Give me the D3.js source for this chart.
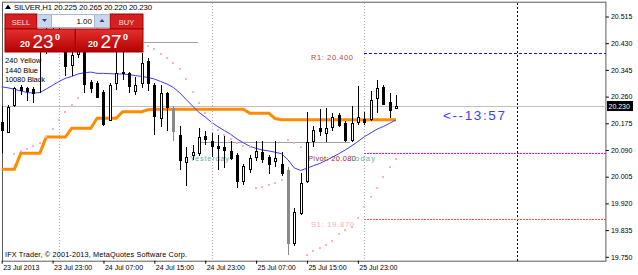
<!DOCTYPE html>
<html><head><meta charset="utf-8">
<script src="https://cdn.jsdelivr.net/npm/d3@7/dist/d3.min.js"></script>
<style>
body{margin:0;background:#fff}
svg{display:block}
text{font-family:"Liberation Sans",Arial,sans-serif}
</style>
</head><body>
<svg id="chart" width="638" height="275"></svg>
<script>
// ---------- DATA (bar 0 = 23 Jul 2013 15:00, H1 bars) ----------
const opens  = [20.180,20.149,20.234,20.292,20.287,20.283,20.430,20.425,20.460,20.470,20.440,20.361,20.395,20.440,20.305,20.304,20.275,20.186,20.303,20.338,20.334,20.279,20.303,20.374,20.297,20.194,20.271,20.223,20.138,20.052,20.072,20.080,20.135,20.120,20.103,20.099,20.088,20.075,19.993,20.030,20.069,20.084,20.069,20.053,20.046,20.027,19.794,19.891,19.989,20.119,20.159,20.144,20.163,20.202,20.175,20.120,20.179,20.189,20.188,20.255,20.292,20.244,20.225];
const highs  = [20.230,20.234,20.292,20.297,20.291,20.292,20.450,20.480,20.500,20.490,20.455,20.420,20.460,20.470,20.313,20.310,20.280,20.303,20.410,20.420,20.339,20.322,20.398,20.382,20.303,20.297,20.276,20.230,20.167,20.099,20.106,20.160,20.149,20.144,20.138,20.133,20.120,20.081,20.046,20.075,20.120,20.120,20.075,20.120,20.085,20.037,19.906,20.016,20.212,20.165,20.220,20.223,20.207,20.208,20.183,20.230,20.294,20.212,20.279,20.313,20.297,20.271,20.265];
const lows   = [20.081,20.144,20.228,20.265,20.246,20.240,20.270,20.396,20.440,20.430,20.324,20.324,20.383,20.273,20.273,20.255,20.167,20.183,20.281,20.313,20.271,20.265,20.287,20.279,20.138,20.163,20.149,20.119,20.025,19.974,20.059,20.071,20.106,20.069,20.027,20.032,20.059,19.969,19.979,20.016,20.056,20.050,20.014,20.035,20.008,19.757,19.785,19.884,19.985,20.099,20.133,20.117,20.149,20.164,20.117,20.117,20.170,20.170,20.183,20.207,20.233,20.191,20.220];
const closes = [20.154,20.228,20.287,20.283,20.278,20.271,20.425,20.460,20.470,20.440,20.356,20.393,20.440,20.300,20.287,20.259,20.173,20.297,20.334,20.335,20.292,20.297,20.368,20.303,20.199,20.273,20.228,20.149,20.059,20.067,20.083,20.132,20.124,20.103,20.098,20.090,20.067,19.993,20.040,20.064,20.088,20.063,20.048,20.064,20.016,19.794,19.894,19.985,20.114,20.154,20.149,20.159,20.194,20.170,20.122,20.175,20.194,20.179,20.249,20.287,20.239,20.220,20.230];
const maBlue = [20.291,20.288,20.283,20.278,20.273,20.271,20.273,20.284,20.296,20.308,20.318,20.324,20.332,20.336,20.338,20.334,20.334,20.333,20.332,20.332,20.330,20.327,20.324,20.321,20.316,20.308,20.300,20.289,20.272,20.251,20.230,20.210,20.195,20.178,20.164,20.152,20.140,20.125,20.113,20.102,20.095,20.090,20.087,20.083,20.078,20.059,20.033,20.025,20.032,20.040,20.047,20.057,20.067,20.078,20.090,20.103,20.117,20.132,20.144,20.156,20.165,20.175,20.186];
const maOrange = [20.029,20.029,20.029,20.080,20.080,20.080,20.080,20.131,20.131,20.131,20.131,20.159,20.159,20.159,20.159,20.191,20.191,20.191,20.191,20.212,20.212,20.212,20.212,20.218,20.220,20.220,20.220,20.220,20.220,20.220,20.220,20.220,20.220,20.220,20.220,20.220,20.220,20.220,20.220,20.207,20.207,20.207,20.207,20.190,20.186,20.186,20.186,20.186,20.186,20.186,20.186,20.186,20.186,20.186,20.186,20.186,20.186,20.186,20.186,20.186,20.186,20.186,20.186];
const sar = [null,null,20.078,20.086,20.093,20.103,20.112,20.132,20.156,20.184,20.212,20.234,20.255,20.490,20.485,20.478,20.470,20.462,20.455,20.447,20.440,20.433,20.427,20.421,20.413,20.396,20.382,20.368,20.347,20.315,20.276,20.239,20.207,20.177,20.154,20.138,20.124,20.113,20.103,20.098,19.969,19.972,19.979,19.986,19.995,20.121,20.112,20.100,19.757,19.767,19.778,19.788,19.801,19.822,19.836,19.846,19.873,19.907,19.940,19.969,20.004,20.035,20.061];

const yTicks = [20.515,20.430,20.345,20.260,20.175,20.090,20.005,19.920,19.835,19.750];
const xTickBars = [0,8,16,24,32,40,48,56];
const xTickLabels = ["23 Jul 2013","23 Jul 23:00","24 Jul 07:00","24 Jul 15:00","24 Jul 23:00","25 Jul 07:00","25 Jul 15:00","25 Jul 23:00"];
const daySeparators = [9,33,57];
const futureSeparator = 81;
const todayStartBar = 57;
const pivot = 20.080, r1 = 20.400, s1 = 19.870;
const bid = 20.230;
const refLines = [{price:20.434, from:22.4, to:30.9},{price:20.117, from:31.2, to:54.8}];
const header = "SILVER,H1 20.225 20.265 20.220 20.230";
const tfLegend = ["240 Yellow","1440 Blue","10080 Black"];
const countdown = "<--13:57";
const fadedBars = [27,45];

// ---------- SCALES ----------
const W = 638, H = 275;
const plot = {l:2, r:605.9, t:1.7, b:260.7};
const x = d3.scaleLinear().domain([0,95]).range([1.7,605.9]);
const y = d3.scaleLinear().domain([19.750,20.515]).range([256.8,16.5]);
const svg = d3.select("#chart");
svg.append("rect").attr("width",W).attr("height",H).attr("fill","#fff");

const bars = opens.map((o,i)=>({i,o,h:highs[i],l:lows[i],c:closes[i]}));

// frame
svg.append("rect").attr("x",plot.l+0.5).attr("y",plot.t+0.5)
  .attr("width",plot.r-plot.l-0.5).attr("height",plot.b-plot.t)
  .attr("fill","none").attr("stroke","#5a5a5a").attr("stroke-width",1);

const g = svg.append("g").attr("shape-rendering","crispEdges");
// day separators
g.selectAll(".sep").data(daySeparators).join("line")
  .attr("x1",d=>Math.round(x(d))+0.5).attr("x2",d=>Math.round(x(d))+0.5)
  .attr("y1",plot.t+1).attr("y2",plot.b)
  .attr("stroke","#b0b0b0").attr("stroke-dasharray","1,2");
g.append("line").attr("x1",Math.round(x(futureSeparator))+0.5).attr("x2",Math.round(x(futureSeparator))+0.5)
  .attr("y1",plot.t+1).attr("y2",plot.b)
  .attr("stroke","#000").attr("stroke-dasharray","2,2");

// pivot levels
const lvl = [{v:r1,c:"#1a1ab0",dash:"3,2"},{v:pivot,c:"#ff00ff",dash:"2,1"},{v:s1,c:"#ff5050",dash:"2,1"}];
g.selectAll(".lvl").data(lvl).join("line")
  .attr("x1",x(todayStartBar)).attr("x2",plot.r)
  .attr("y1",d=>Math.round(y(d.v))+0.5).attr("y2",d=>Math.round(y(d.v))+0.5)
  .attr("stroke",d=>d.c).attr("stroke-dasharray",d=>d.dash);

// bid line
g.append("line").attr("x1",plot.l).attr("x2",plot.r)
  .attr("y1",Math.round(y(bid))+0.5).attr("y2",Math.round(y(bid))+0.5)
  .attr("stroke","#c0c0c0");
// reference lines
g.selectAll(".ref").data(refLines).join("line")
  .attr("x1",d=>x(d.from)).attr("x2",d=>x(d.to))
  .attr("y1",d=>Math.round(y(d.price))+0.5).attr("y2",d=>Math.round(y(d.price))+0.5)
  .attr("stroke","#a0a0a0");

// labels of levels
const lt = svg.append("g").attr("font-size","7.5px");
lt.append("text").attr("x",311).attr("y",y(r1)+7.5).attr("fill","#b04848").attr("textLength",42).text("R1: "+r1.toFixed(3));
lt.append("text").attr("x",308).attr("y",y(pivot)+8).attr("fill","#a02828").attr("textLength",48).text("Pivot: "+pivot.toFixed(3));
lt.append("text").attr("x",350).attr("y",y(pivot)+8).attr("fill","#66b0b0").attr("textLength",25).text("Today");
lt.append("text").attr("x",311).attr("y",y(s1)+8).attr("fill","#f2b0b0").attr("textLength",43).text("S1: "+s1.toFixed(3));
lt.append("text").attr("x",190).attr("y",y(pivot)+8).attr("fill","#66b0b0").attr("textLength",39).text("Yesterday");

// orange MA
svg.append("path").datum(maOrange)
  .attr("d",d3.line().x((d,i)=>x(i)).y(d=>y(d)))
  .attr("fill","none").attr("stroke","#ff8c00").attr("stroke-width",3);
// blue MA
svg.append("path").datum(maBlue)
  .attr("d",d3.line().x((d,i)=>x(i)).y(d=>y(d)).curve(d3.curveLinear))
  .attr("fill","none").attr("stroke","#3c3cff").attr("stroke-width",1);

// SAR
svg.append("g").selectAll("rect").data(sar.map((v,i)=>({v,i})).filter(d=>d.v!==null)).join("rect")
  .attr("x",d=>Math.round(x(d.i))-1).attr("y",d=>Math.round(y(d.v))-1).attr("width",2).attr("height",2)
  .attr("fill","#ffb0c0");

// candles
const cg = svg.append("g").attr("shape-rendering","crispEdges");
const col = d=>fadedBars.includes(d.i)?"#8a8a8a":"#000";
cg.selectAll(".wick").data(bars).join("line")
  .attr("x1",d=>Math.round(x(d.i))+0.5).attr("x2",d=>Math.round(x(d.i))+0.5)
  .attr("y1",d=>Math.round(y(d.h))).attr("y2",d=>Math.round(y(d.l)))
  .attr("stroke",col);
cg.selectAll(".body").data(bars).join("rect")
  .attr("x",d=>Math.round(x(d.i))-0.5).attr("width",2)
  .attr("y",d=>Math.round(y(Math.max(d.o,d.c)))+0.5)
  .attr("height",d=>Math.max(1,Math.round(Math.abs(y(d.o)-y(d.c)))))
  .attr("fill",d=>d.c>=d.o?"#fff":col(d))
  .attr("stroke",col).attr("stroke-width",1);

// countdown
svg.append("text").attr("x",443).attr("y",120).attr("fill","#3c3cff")
  .attr("font-family","'Liberation Mono','Courier New',monospace").attr("font-size","13.5px")
  .attr("textLength",62).text(countdown);

// right axis
const ya = svg.append("g").attr("transform",`translate(${plot.r},0)`)
  .call(d3.axisRight(y).tickValues(yTicks).tickSize(3).tickFormat(d3.format(".3f")));
ya.select(".domain").remove();
ya.selectAll("line").attr("stroke","#000");
ya.selectAll("text").attr("font-size","7px").attr("fill","#000").attr("x",5).attr("font-family","'Liberation Sans',Arial,sans-serif");
// price box
svg.append("rect").attr("x",607).attr("y",y(bid)-5).attr("width",26).attr("height",10).attr("fill","#000");
svg.append("text").attr("x",608.5).attr("y",y(bid)+2.5).attr("fill","#fff").attr("font-size","7px").text(bid.toFixed(3));

// bottom axis
const xa = svg.append("g").attr("transform",`translate(0,${plot.b})`)
  .call(d3.axisBottom(x).tickValues(xTickBars).tickSize(3).tickFormat((d,i)=>xTickLabels[i]));
xa.select(".domain").remove();
xa.selectAll("line").attr("stroke","#000");
xa.selectAll("text").attr("font-size","7px").attr("fill","#000").attr("text-anchor","start")
  .attr("dx",1).attr("y",4).attr("dy","0.71em").attr("font-family","'Liberation Sans',Arial,sans-serif");

// header + legend + copyright
svg.append("path").attr("d","M5,9 L8,4.5 L11,9 Z").attr("fill","#000");
svg.append("text").attr("x",14).attr("y",9.5).attr("font-size","7.8px").attr("fill","#000")
  .attr("textLength",138).text(header);
svg.selectAll(".leg").data(tfLegend).join("text")
  .attr("x",5).attr("y",(d,i)=>63+i*9.5).attr("font-size","7.5px").attr("fill","#000")
  .attr("textLength",(d,i)=>[36.5,33,40][i]).text(d=>d);
svg.append("text").attr("x",5).attr("y",257).attr("font-size","7.3px").attr("fill","#000")
  .attr("textLength",182).text("IFX Trader, \u00a9 2001-2013, MetaQuotes Software Corp.");

// one-click trading panel
const defs = svg.append("defs");
const gr = defs.append("linearGradient").attr("id","redg").attr("x1",0).attr("y1",0).attr("x2",0).attr("y2",1);
gr.append("stop").attr("offset","0%").attr("stop-color","#e63030");
gr.append("stop").attr("offset","100%").attr("stop-color","#b30000");
const p = svg.append("g");
p.append("rect").attr("x",5).attr("y",14).attr("width",32).attr("height",15).attr("fill","#d42020").attr("stroke","#a00000");
p.append("text").attr("x",21).attr("y",24.5).attr("text-anchor","middle").attr("font-size","7.5px").attr("fill","#ffe0e0").text("SELL");
p.append("rect").attr("x",110).attr("y",14).attr("width",33).attr("height",15).attr("fill","#d42020").attr("stroke","#a00000");
p.append("text").attr("x",126.5).attr("y",24.5).attr("text-anchor","middle").attr("font-size","7.5px").attr("fill","#ffe0e0").text("BUY");
p.append("rect").attr("x",37.5).attr("y",14.5).attr("width",14).attr("height",13).attr("fill","#c8d6ee").attr("stroke","#a8b8d0");
p.append("path").attr("d","M42,19 L47,19 L44.5,22 Z").attr("fill","#304070");
p.append("rect").attr("x",51.5).attr("y",14.5).attr("width",43).attr("height",13).attr("fill","#fff").attr("stroke","#a8b8d0");
p.append("text").attr("x",92).attr("y",24).attr("text-anchor","end").attr("font-size","8px").attr("fill","#000").text("1.00");
p.append("rect").attr("x",94.5).attr("y",14.5).attr("width",15).attr("height",13).attr("fill","#c8d6ee").attr("stroke","#a8b8d0");
p.append("path").attr("d","M99.5,22 L104.5,22 L102,19 Z").attr("fill","#304070");
p.append("rect").attr("x",5).attr("y",29).attr("width",70).attr("height",23).attr("fill","url(#redg)").attr("stroke","#a00000");
p.append("rect").attr("x",75.5).attr("y",29).attr("width",67.5).attr("height",23).attr("fill","url(#redg)").attr("stroke","#a00000");
const bigs = [{x:20,a:"20",b:"23"},{x:88,a:"20",b:"27"}];
bigs.forEach(d=>{
  p.append("text").attr("x",d.x).attr("y",47).attr("font-size","9px").attr("font-weight","bold").attr("fill","#fff").text(d.a);
  p.append("text").attr("x",d.x+12.5).attr("y",48).attr("font-size","19px").attr("fill","#fff").text(d.b);
  p.append("text").attr("x",d.x+35).attr("y",40).attr("font-size","9px").attr("font-weight","bold").attr("fill","#fff").text("0");
});
</script>
</body></html>
